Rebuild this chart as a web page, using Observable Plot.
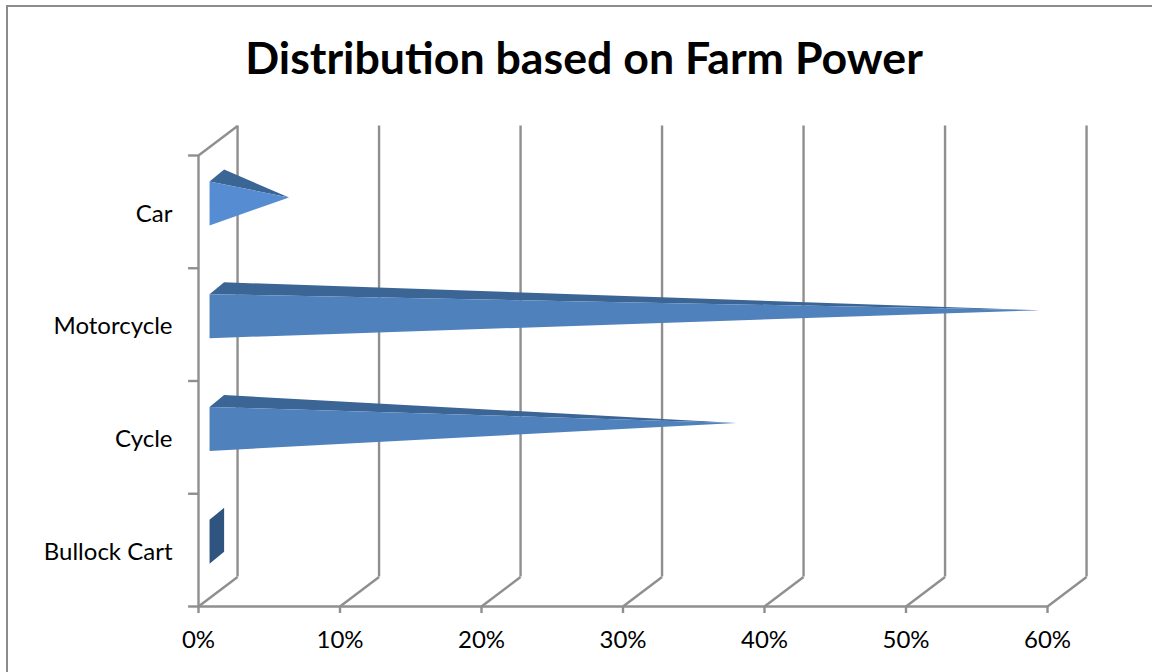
<!DOCTYPE html>
<html>
<head>
<meta charset="utf-8">
<script src="https://cdn.jsdelivr.net/npm/d3@7"></script>
<script src="https://cdn.jsdelivr.net/npm/@observablehq/plot@0.6"></script>
<style>
  html, body { margin: 0; padding: 0; background: #fff; overflow: hidden; }
  #chart { position: relative; width: 1152px; height: 672px; font-family: Lato, sans-serif; }
  #frame { position: absolute; left: 6px; top: 5px; right: -4px; bottom: -4px;
           border-left: 2px solid #8c8c8c; border-top: 2px solid #8c8c8c; }
  #title { position: absolute; left: 0; top: 30px; width: 1168px; text-align: center;
           font-size: 44.7px; line-height: 54px; font-weight: 700; color: #000; }
  #plot { position: absolute; left: 0; top: 100px; }
  #plot svg { overflow: visible; background: transparent; }
</style>
</head>
<body>
<div id="chart">
  <div id="frame"></div>
  <div id="title">Distribution based on Farm Power</div>
  <div id="plot"></div>
</div>
<script>
// Share of households by farm power source, bottom to top.
const categories = ["Bullock Cart", "Cycle", "Motorcycle", "Car"];
const shares = [0, 36.7, 58.2, 5.1];
const frontColors = ["#2f5480", "#4f81bd", "#4f81bd", "#568dd2"];
const xTicks = [0, 10, 20, 30, 40, 50, 60];

// Oblique projection of the chart's depth, in data units.
const wallDx = 2.76, wallDy = 0.262;
const baseX = 0.78, coneDx = 1.03, coneDy = 0.105;
const coneLift = 0.075, coneHalf = 0.195;
const topColor = "#3b6595";

// Each category becomes a set of filled faces, described as closed polygons.
const faces = categories.flatMap((name, i) => {
  const c = i + 0.5 + coneLift;
  const lo = c - coneHalf, hi = c + coneHalf;
  const tip = { x: shares[i] + baseX + coneDx / 2, y: c + coneDy / 2 };
  const face = (id, color, pts) =>
    pts.map(([x, y]) => ({ x, y, id: `${name}-${id}`, color }));
  if (shares[i] === 0) {
    return face("end", frontColors[i], [
      [baseX, lo], [baseX, hi], [baseX + coneDx, hi + coneDy], [baseX + coneDx, lo + coneDy]
    ]);
  }
  return [
    ...face("top", topColor, [[baseX, hi], [baseX + coneDx, hi + coneDy], [tip.x, tip.y]]),
    ...face("front", frontColors[i], [[baseX, lo], [baseX, hi], [tip.x, tip.y]])
  ];
});

const ink = "#8f8f8f";
const lineWidth = 2.4;
const plot = Plot.plot({
  width: 1152,
  height: 572,
  marginLeft: 198,
  marginRight: 105,
  marginTop: 55,
  marginBottom: 66,
  style: { fontFamily: "Lato, sans-serif", fontSize: "24px", color: "#000", background: "transparent" },
  x: { domain: [0, 60] },
  y: { domain: [0, 4] },
  color: { type: "identity" },
  marks: [
    // Back wall gridlines and their floor diagonals
    Plot.ruleX(xTicks, { x: d => d + wallDx, y1: wallDy, y2: 4 + wallDy, stroke: ink, strokeWidth: lineWidth }),
    Plot.link(xTicks, { x1: d => d, y1: 0, x2: d => d + wallDx, y2: wallDy, stroke: ink, strokeWidth: lineWidth }),
    Plot.link([4], { x1: 0, y1: d => d, x2: wallDx, y2: d => d + wallDy, stroke: ink, strokeWidth: lineWidth }),
    // Front axes
    Plot.ruleX([0], { y1: 0, y2: 4, stroke: ink, strokeWidth: lineWidth }),
    Plot.ruleY([0], { x1: 0, x2: 60, stroke: ink, strokeWidth: lineWidth }),
    Plot.ruleY([0, 1, 2, 3, 4], { x1: -0.7, x2: 0, stroke: ink, strokeWidth: lineWidth }),
    // Cones
    Plot.line(faces, { x: "x", y: "y", z: "id", fill: "color", stroke: "none" }),
    Plot.axisX({
      ticks: xTicks, tickFormat: d => `${d}%`, tickSize: 7, tickPadding: 17,
      stroke: ink, strokeWidth: lineWidth, fill: "#000", label: null
    }),
    Plot.axisY({
      ticks: categories.map((_, i) => i + 0.5), tickFormat: d => categories[d - 0.5],
      tickSize: 0, tickPadding: 26, fill: "#000", label: null, dy: 2
    })
  ]
});
document.getElementById("plot").append(plot);
</script>
</body>
</html>
